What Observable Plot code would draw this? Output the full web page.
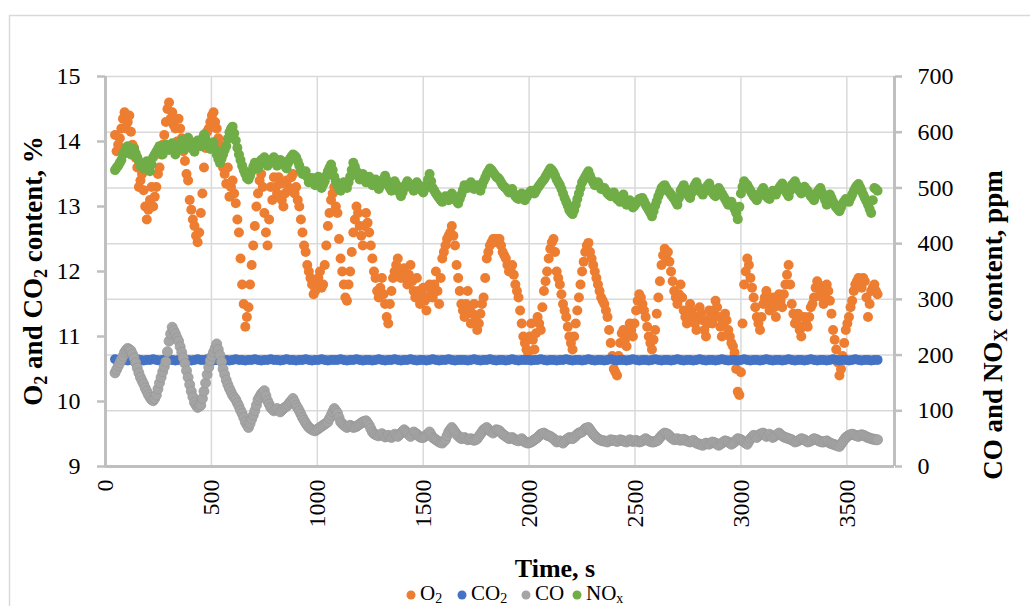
<!DOCTYPE html>
<html><head><meta charset="utf-8">
<script src="https://cdn.jsdelivr.net/npm/d3@7"></script>
<script src="https://cdn.jsdelivr.net/npm/@observablehq/plot@0.6"></script>
<style>body{margin:0;background:#fff;}</style>
</head><body><div id="chart"></div>
<script>
// sampling clock of the measurements (s); "Mid" arrays are the readings half a step later
const timeStart = 45, timeStep = 15;

// O2, % (left axis)
const o2 = [
14.1,13.95,14.2,14.45,14.3,14.15,13.9,13.6,13.4,13.25,
12.8,13.1,13.0,13.3,13.6,13.95,14.3,14.6,14.45,14.2,
14.35,14.05,13.7,13.4,12.95,12.7,12.45,12.9,13.6,14.15,
14.3,14.45,14.2,13.95,13.6,13.35,13.15,13.4,13.05,12.6,
11.8,11.15,11.45,12.1,12.7,13.2,13.5,12.9,12.4,13.3,
13.45,13.2,13.35,13.0,13.4,13.25,13.5,13.3,13.0,12.6,
12.3,12.0,11.8,11.7,11.9,11.75,12.1,12.7,13.1,13.3,
12.9,12.2,11.8,11.55,12.0,12.6,13.0,12.7,12.4,12.9,
12.6,12.2,11.9,11.6,11.9,11.5,11.2,11.7,12.0,12.2,
11.9,12.05,11.8,12.1,11.7,11.9,11.5,11.75,11.4,11.8,
11.6,12.0,11.5,12.2,12.4,12.55,12.7,12.4,11.9,11.5,
11.3,11.7,11.2,11.5,11.1,11.35,11.6,12.2,12.4,12.5,
12.45,12.5,12.3,12.2,12.0,12.1,11.8,11.6,11.2,10.9,
10.75,11.2,10.8,11.3,11.1,11.7,12.0,12.35,12.5,12.0,
11.8,11.5,11.3,11.0,10.8,11.2,11.6,12.0,12.3,12.44,
12.2,12.0,11.8,11.6,11.5,11.3,10.9,10.5,10.4,10.9,
11.1,10.85,11.2,11.0,11.4,11.65,11.5,11.3,11.0,10.8,
11.1,11.6,12.1,12.35,12.3,12.0,11.7,11.5,11.8,11.4,
11.2,11.5,11.3,11.1,11.45,11.25,11.0,11.4,11.2,11.55,
11.3,11.0,11.35,11.1,10.9,10.75,10.15,10.45,11.8,12.2,
11.9,11.6,11.3,11.1,11.5,11.7,11.4,11.6,11.3,11.65,
11.45,11.8,12.1,11.5,11.2,11.35,11.0,11.3,11.15,11.45,
11.6,11.85,11.7,11.5,11.8,11.55,11.1,10.8,10.4,10.7,
11.1,11.3,11.55,11.8,11.9,11.75,11.85,11.3,11.7,11.8,
11.65];
const o2Mid = [
13.85,14.05,14.35,14.2,14.4,13.95,13.75,13.3,13.5,13.0,
12.95,13.3,13.15,13.5,13.8,14.1,14.5,14.35,14.25,14.0,
14.2,13.85,13.5,13.1,12.8,12.55,12.6,13.2,13.9,14.2,
14.4,14.3,14.05,13.75,13.5,13.6,13.3,13.2,12.8,12.2,
11.5,11.3,11.8,12.4,13.0,13.4,13.3,12.6,12.8,13.1,
13.3,13.45,13.1,13.2,13.3,13.45,13.2,13.1,12.8,12.4,
12.1,11.9,11.65,11.85,12.0,11.8,12.4,12.9,13.2,13.0,
12.5,12.0,11.6,11.8,12.3,12.8,12.9,12.55,12.7,12.75,
12.4,12.0,11.7,11.75,11.65,11.3,11.5,11.9,12.1,12.0,
12.0,11.9,11.95,11.85,11.6,11.7,11.65,11.55,11.6,11.7,
11.8,11.7,11.9,12.3,12.5,12.6,12.55,12.1,11.7,11.4,
11.5,11.4,11.35,11.25,11.2,11.5,11.9,12.3,12.45,12.5,
12.5,12.4,12.25,12.1,12.05,11.95,11.7,11.4,11.0,10.8,
11.0,10.95,11.05,11.2,11.45,11.85,12.2,12.45,12.3,11.9,
11.65,11.4,11.15,10.9,11.0,11.4,11.8,12.15,12.4,12.3,
12.1,11.9,11.7,11.55,11.4,11.1,10.7,10.45,10.7,11.05,
10.95,11.05,11.1,11.2,11.55,11.6,11.4,11.15,10.9,10.95,
11.35,11.85,12.25,12.2,12.15,11.85,11.6,11.65,11.6,11.3,
11.35,11.4,11.2,11.3,11.35,11.1,11.2,11.3,11.4,11.45,
11.15,11.2,11.25,11.0,10.85,10.5,10.1,11.2,12.0,12.1,
11.75,11.45,11.2,11.3,11.6,11.55,11.5,11.45,11.5,11.55,
11.65,11.95,11.8,11.35,11.25,11.1,11.15,11.2,11.3,11.5,
11.75,11.8,11.6,11.65,11.7,11.35,10.95,10.6,10.5,10.9,
11.2,11.45,11.7,11.85,11.8,11.9,11.6,11.5,11.75,11.7];

// CO2, % (left axis)
const co2 = [
10.65,10.64,10.65,10.64,10.63,10.64,10.64,10.65,10.64,10.63,
10.64,10.64,10.65,10.64,10.63,10.64,10.65,10.64,10.64,10.63,
10.64,10.65,10.64,10.64,10.63,10.64,10.65,10.64,10.64,10.65,
10.64,10.63,10.64,10.65,10.64,10.64,10.63,10.64,10.65,10.64,
10.64,10.63,10.64,10.64,10.65,10.64,10.63,10.64,10.64,10.65,
10.64,10.64,10.63,10.64,10.65,10.64,10.64,10.63,10.64,10.64,
10.65,10.64,10.63,10.64,10.64,10.65,10.64,10.63,10.64,10.64,
10.64,10.65,10.64,10.63,10.64,10.64,10.65,10.64,10.63,10.64,
10.64,10.63,10.64,10.65,10.64,10.63,10.64,10.64,10.65,10.64,
10.63,10.64,10.64,10.65,10.64,10.63,10.64,10.64,10.63,10.64,
10.65,10.64,10.63,10.64,10.64,10.65,10.64,10.63,10.64,10.64,
10.64,10.63,10.64,10.65,10.64,10.63,10.64,10.64,10.65,10.64,
10.63,10.64,10.64,10.63,10.64,10.65,10.64,10.63,10.64,10.64,
10.64,10.63,10.64,10.64,10.65,10.64,10.63,10.64,10.64,10.63,
10.64,10.64,10.65,10.64,10.63,10.64,10.64,10.63,10.64,10.65,
10.64,10.63,10.64,10.64,10.63,10.64,10.65,10.64,10.63,10.64,
10.64,10.63,10.64,10.65,10.64,10.63,10.64,10.64,10.63,10.64,
10.65,10.64,10.63,10.64,10.64,10.63,10.64,10.65,10.64,10.63,
10.64,10.64,10.63,10.64,10.65,10.64,10.63,10.64,10.64,10.63,
10.64,10.65,10.64,10.63,10.64,10.64,10.63,10.64,10.65,10.64,
10.63,10.64,10.64,10.63,10.64,10.65,10.64,10.63,10.64,10.64,
10.63,10.64,10.65,10.64,10.63,10.64,10.64,10.63,10.64,10.65,
10.64,10.63,10.64,10.64,10.63,10.64,10.65,10.64,10.63,10.64,
10.64,10.63,10.64,10.65,10.64,10.63,10.64,10.64,10.63,10.64,
10.64];

// CO, ppm (right axis)
const co = [
168,180,192,205,212,208,195,177,160,148,
135,124,118,128,150,170,188,225,250,238,
225,205,185,160,135,115,106,110,135,165,
190,205,220,200,175,155,140,128,120,108,
95,80,70,85,100,120,130,136,118,106,
100,104,98,104,108,115,122,110,100,88,
78,70,66,64,68,72,76,80,92,104,
96,80,74,70,74,70,72,76,80,82,
74,62,57,55,59,53,56,52,58,54,
60,66,60,54,62,58,53,52,56,62,
52,48,44,42,48,62,70,62,55,50,
52,48,50,47,50,58,66,70,64,60,
66,64,58,54,50,52,48,46,50,44,
42,44,48,52,58,60,56,54,50,44,
46,42,48,52,50,55,60,62,68,70,
62,55,50,47,46,44,48,47,45,48,
46,44,48,45,47,44,46,50,46,44,
45,48,55,60,58,52,48,50,47,49,
46,44,47,42,40,38,42,40,44,42,
38,42,46,44,40,44,50,48,44,40,
50,56,52,58,60,54,58,52,56,60,
55,52,50,48,44,46,50,48,44,46,
50,48,45,44,46,42,40,38,36,44,
52,56,58,56,54,57,55,52,50,49,
48];
const coMid = [
174,186,198,209,210,202,186,168,154,141,
129,120,122,139,160,179,206,238,244,231,
215,195,172,147,125,110,108,122,150,178,
198,212,210,188,165,147,134,124,114,101,
88,75,77,92,110,125,133,127,112,103,
102,101,101,106,111,118,116,105,94,83,
74,68,65,66,70,74,78,86,98,100,
88,77,72,72,72,71,74,78,81,78,
68,59,56,57,56,54,54,55,56,57,
63,63,57,58,60,55,52,54,59,57,
50,46,43,45,55,66,66,58,52,51,
50,49,48,48,54,62,68,67,62,63,
65,61,56,52,51,50,47,48,47,43,
43,46,50,55,59,58,55,52,47,45,
44,45,50,51,52,58,61,65,69,66,
58,52,48,46,45,46,47,46,46,47,
45,46,46,46,45,45,48,48,45,44,
46,52,58,59,55,50,49,48,48,47,
45,45,44,41,39,40,41,42,43,40,
40,44,45,42,42,47,49,46,42,45,
53,54,55,59,57,56,55,54,58,57,
53,51,49,46,45,48,49,46,45,48,
49,46,44,45,44,41,39,37,40,48,
54,57,57,55,56,56,53,51,49,48];

// NOx, ppm (right axis)
const nox = [
532,540,550,565,575,560,570,555,540,535,
548,530,555,565,575,560,578,568,580,560,
572,585,570,590,578,565,585,575,596,580,
570,582,560,545,560,575,600,610,585,560,
540,525,515,530,545,535,550,555,540,548,
555,540,550,545,535,552,560,555,540,525,
530,510,518,505,520,500,512,530,542,520,
505,495,510,500,520,545,530,515,525,510,
520,505,515,498,510,522,505,495,512,500,
485,500,512,505,495,510,500,492,505,525,
500,490,482,475,485,478,490,480,472,488,
505,500,510,498,505,495,512,525,535,528,
520,515,505,500,492,498,485,480,490,478,
488,495,490,500,508,515,525,535,528,515,
505,490,475,460,453,470,490,510,520,530,
515,505,510,498,500,490,485,492,480,475,
488,470,478,465,472,480,482,470,460,449,
468,485,500,505,495,488,480,470,495,505,
490,482,500,510,495,488,500,508,492,485,
500,490,480,470,475,462,444,490,512,505,
495,485,478,490,500,485,480,495,488,500,
508,495,485,505,512,498,490,502,495,485,
478,492,500,485,470,488,475,465,458,472,
480,475,488,500,507,495,482,470,455,500,
495];
const noxMid = [
536,545,560,572,568,565,562,548,538,542,
540,542,560,570,568,570,572,575,570,566,
578,576,582,584,570,575,580,588,588,575,
576,570,552,552,568,588,606,598,572,550,
532,518,522,538,540,544,552,548,544,552,
548,545,548,540,545,556,558,548,532,528,
520,514,510,512,508,506,522,536,532,512,
500,502,505,510,532,538,522,520,518,515,
512,510,506,504,516,514,500,504,506,492,
492,506,508,500,502,505,496,498,515,512,
495,486,478,480,482,484,485,476,480,496,
502,505,504,502,500,504,518,530,532,524,
518,510,502,496,495,490,482,485,484,483,
492,492,495,504,512,520,530,532,522,510,
498,482,468,456,460,480,500,515,525,522,
510,508,504,499,495,488,489,486,478,482,
478,474,472,468,476,481,476,465,455,458,
476,492,503,500,492,484,475,482,500,498,
486,491,505,502,492,494,504,500,488,492,
495,485,475,472,468,455,466,502,508,500,
490,482,484,495,492,482,488,492,494,504,
502,490,495,508,505,494,496,498,490,482,
485,496,492,478,479,482,470,462,465,476,
478,482,494,504,501,488,476,462,478,498];

const xTicks = [0,500,1000,1500,2000,2500,3000,3500];
const leftTicks = [9,10,11,12,13,14,15];
const rightTicks = [0,100,200,300,400,500,600,700];
const seriesNames = ["O2","CO2","CO","NOx"];
const seriesColors = ["#ED7D31","#4472C4","#A5A5A5","#70AD47"];

// secondary (ppm) axis mapped onto primary (%) scale: 0..700 ppm <-> 9..15 %
const toPct = v => 9 + v * (15 - 9) / 700;
const toPpm = p => (p - 9) * 700 / (15 - 9);

const time = o2.map((_, i) => timeStart + i * timeStep);
const timeMid = o2Mid.map((_, i) => timeStart + timeStep / 2 + i * timeStep);
const rows = (vals, ts, conv) => vals.map((v, i) => ({t: ts[i], v: conv ? conv(v) : v}));
const merged = (main, mid, conv) => rows(main, time, conv).concat(rows(mid, timeMid, conv)).sort((a, b) => a.t - b.t);

const axisGray = "#bfbfbf", gridGray = "#d9d9d9";
const font = "'Liberation Serif', 'Times New Roman', serif";

const plot = Plot.plot({
  width: 1030, height: 606,
  marginLeft: 105, marginRight: 136, marginTop: 76, marginBottom: 140,
  style: {fontFamily: font, fontSize: "24px", color: "#000", background: "#fff", overflow: "visible"},
  x: {domain: [0, 3725]},
  y: {domain: [9, 15]},
  marks: [
    Plot.gridX(xTicks, {stroke: gridGray, strokeOpacity: 1, strokeWidth: 1.5}),
    Plot.gridY(rightTicks.map(toPct), {stroke: gridGray, strokeOpacity: 1, strokeWidth: 1.5}),
    Plot.dot(merged(o2, o2Mid), {x: "t", y: "v", r: 5, fill: seriesColors[0]}),
    Plot.dot(rows(co2, time), {x: "t", y: "v", r: 5, fill: seriesColors[1]}),
    Plot.dot(merged(co, coMid, toPct), {x: "t", y: "v", r: 5, fill: seriesColors[2], stroke: "#999999", strokeWidth: 0.8}),
    Plot.dot(merged(nox, noxMid, toPct), {x: "t", y: "v", r: 5, fill: seriesColors[3]}),
    Plot.ruleX([0], {stroke: axisGray, strokeWidth: 3}),
    Plot.ruleX([3725], {stroke: axisGray, strokeWidth: 3}),
    Plot.ruleY([9], {stroke: axisGray, strokeWidth: 3}),
    Plot.axisY(leftTicks, {anchor: "left", tickSize: 8, tickPadding: 17, stroke: axisGray, strokeWidth: 2.5, fill: "#000", label: null, tickFormat: d => String(d)}),
    Plot.axisY(rightTicks.map(toPct), {anchor: "right", tickSize: 7, tickPadding: 16, stroke: axisGray, strokeWidth: 2.5, fill: "#000", label: null, tickFormat: p => String(Math.round(toPpm(p)))}),
    Plot.axisX(xTicks, {anchor: "bottom", tickSize: 0, tickPadding: 13, tickRotate: -90, fill: "#000", label: null, tickFormat: d => String(d)})
  ]
});
document.getElementById("chart").appendChild(plot);

const svg = d3.select(plot);
// chart-area border
svg.insert("rect", ":first-child").attr("x", 9.5).attr("y", 15.5).attr("width", 1200).attr("height", 800)
  .attr("fill", "none").attr("stroke", gridGray).attr("stroke-width", 1.5);

function richText(sel, parts, subSize, shift) {
  let shifted = false;
  parts.forEach(p => {
    const ts = sel.append("tspan");
    if (typeof p === "string") {
      ts.text(p);
      if (shifted) { ts.attr("dy", -shift); shifted = false; }
    } else {
      ts.attr("dy", shift).attr("font-size", subSize).text(p.sub);
      shifted = true;
    }
  });
}

// axis titles
const lt = svg.append("text").attr("transform", "translate(42,271) rotate(-90)")
  .attr("text-anchor", "middle").attr("font-weight", "bold").attr("font-size", 27).attr("fill", "#000");
richText(lt, ["O", {sub: "2"}, " and CO", {sub: "2"}, " content, %"], 18, 5);

const rt = svg.append("text").attr("transform", "translate(1002,325) rotate(-90)")
  .attr("text-anchor", "middle").attr("font-weight", "bold").attr("font-size", 27).attr("fill", "#000");
richText(rt, ["CO and NO", {sub: "X"}, " content, ppm"], 18, 5);

svg.append("text").attr("x", 555).attr("y", 577).attr("text-anchor", "middle")
  .attr("font-weight", "bold").attr("font-size", 26).attr("fill", "#000").text("Time, s");

// legend
const legendX = [411, 462, 526, 577];
const legendParts = [["O", {sub: "2"}], ["CO", {sub: "2"}], ["CO"], ["NO", {sub: "x"}]];
seriesNames.forEach((name, i) => {
  svg.append("circle").attr("cx", legendX[i]).attr("cy", 595).attr("r", 4.5).attr("fill", seriesColors[i]);
  const t = svg.append("text").attr("x", legendX[i] + 9).attr("y", 600).attr("text-anchor", "start")
    .attr("font-size", 21).attr("fill", "#000");
  richText(t, legendParts[i], 14, 3);
});
</script>
</body></html>
